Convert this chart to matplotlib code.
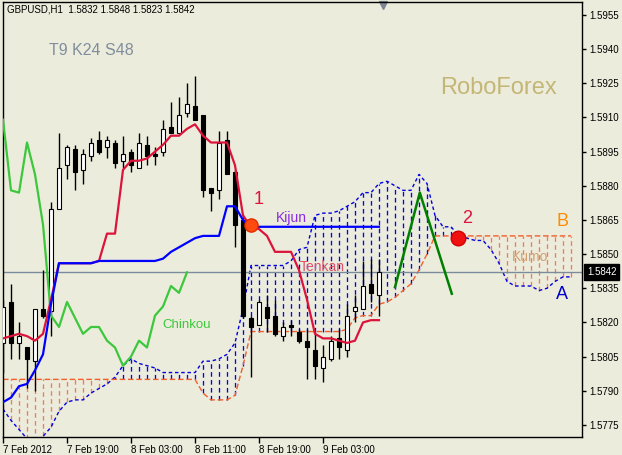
import numpy as np
import matplotlib.pyplot as plt
import matplotlib.transforms as mtransforms

plt.rcParams['font.family'] = ['Liberation Sans', 'DejaVu Sans']

# GBPUSD H1, bar 0 = 7 Feb 2012 11:00
opens = [1.5811, 1.5829, 1.5811, 1.5809, 1.5803, 1.5826, 1.5825, 1.5870, 1.5889, 1.5896,
         1.5887, 1.5893, 1.5900, 1.5897, 1.5899, 1.5891, 1.5895, 1.5888, 1.5898, 1.5894,
         1.5895, 1.5906, 1.5903, 1.5912, 1.5915, 1.5911, 1.5879, 1.5878, 1.5900, 1.5886,
         1.5865, 1.5822, 1.5819, 1.5827, 1.5823, 1.5814, 1.5819, 1.5816, 1.5812, 1.5808,
         1.5800, 1.5804, 1.5813, 1.5808, 1.5825, 1.5826, 1.5837, 1.5832]
highs = [1.5830, 1.5837, 1.5820, 1.5809, 1.5826, 1.5843, 1.5873, 1.5903, 1.5898, 1.5898,
         1.5896, 1.5901, 1.5904, 1.5902, 1.5900, 1.5902, 1.5896, 1.5903, 1.5902, 1.5897,
         1.5909, 1.5917, 1.5919, 1.5925, 1.5928, 1.5911, 1.5879, 1.5904, 1.5904, 1.5887,
         1.5867, 1.5823, 1.5830, 1.5832, 1.5830, 1.5820, 1.5821, 1.5817, 1.5817, 1.5816,
         1.5810, 1.5814, 1.5817, 1.5828, 1.5832, 1.5847, 1.5848, 1.5848]
lows = [1.5798, 1.5804, 1.5804, 1.5791, 1.5790, 1.5822, 1.5814, 1.5870, 1.5883, 1.5878,
        1.5881, 1.5891, 1.5894, 1.5892, 1.5888, 1.5888, 1.5886, 1.5888, 1.5889, 1.5889,
        1.5893, 1.5903, 1.5903, 1.5910, 1.5909, 1.5875, 1.5869, 1.5874, 1.5885, 1.5853,
        1.5822, 1.5796, 1.5819, 1.5816, 1.5814, 1.5812, 1.5814, 1.5811, 1.5795, 1.5795,
        1.5794, 1.5803, 1.5804, 1.5805, 1.5820, 1.5826, 1.5829, 1.5823]
closes = [1.5827, 1.5811, 1.5814, 1.5804, 1.5826, 1.5823, 1.5870, 1.5888, 1.5897, 1.5886,
          1.5894, 1.5899, 1.5895, 1.5900, 1.5890, 1.5894, 1.5889, 1.5899, 1.5893, 1.5893,
          1.5905, 1.5903, 1.5911, 1.5916, 1.5909, 1.5878, 1.5877, 1.5899, 1.5885, 1.5863,
          1.5823, 1.5818, 1.5829, 1.5822, 1.5815, 1.5818, 1.5818, 1.5812, 1.5809, 1.5801,
          1.5805, 1.5812, 1.5809, 1.5823, 1.5827, 1.5836, 1.5833, 1.5842]

tenkan = [1.5813, 1.5814, 1.5815, 1.5814, 1.5812, 1.5815, 1.5830, 1.5846, 1.5846, 1.5846,
          1.5846, 1.5846, 1.5847, 1.5859, 1.5859, 1.5887, 1.5891, 1.5891, 1.5892, 1.5895,
          1.5898, 1.5902, 1.5902, 1.5905, 1.5907, 1.5902, 1.5899, 1.5899, 1.5899, 1.5889,
          1.5867, 1.5862, 1.5861, 1.5858, 1.5851, 1.5851, 1.5851, 1.5843, 1.5830, 1.5815,
          1.5813, 1.5813, 1.5812, 1.5811, 1.5812, 1.5820, 1.5821, 1.5821]
kijun = [1.5785, 1.5787, 1.5792, 1.5793, 1.5799, 1.5806, 1.5828, 1.5846, 1.5846, 1.5846,
         1.5846, 1.5846, 1.5847, 1.5847, 1.5847, 1.5847, 1.5847, 1.5847, 1.5847, 1.5847,
         1.5848, 1.5851, 1.5853, 1.5855, 1.5857, 1.5858, 1.5858, 1.5858, 1.5871, 1.5871,
         1.5865, 1.5862, 1.5862, 1.5862, 1.5862, 1.5862, 1.5862, 1.5862, 1.5862, 1.5862,
         1.5862, 1.5862, 1.5862, 1.5862, 1.5862, 1.5862, 1.5862, 1.5862]
shift = 24

# senkou spans, already shifted 24 bars ahead
span_a = [1.5782, 1.5777, 1.5773, 1.5769, 1.5768, 1.5770, 1.5774, 1.5781, 1.5785, 1.5786,
          1.5786, 1.5789, 1.5791, 1.5793, 1.5796, 1.5801, 1.5804, 1.5802, 1.5801, 1.5800,
          1.5798, 1.5798, 1.5798, 1.5798, 1.5798, 1.5803, 1.5803, 1.5804, 1.5806, 1.5811,
          1.5826, 1.5845, 1.5845, 1.5845, 1.5845, 1.5845, 1.5847, 1.5852, 1.5853, 1.5867,
          1.5868, 1.5868, 1.5869, 1.5871, 1.5873, 1.5877, 1.5877, 1.5881, 1.5882, 1.5880,
          1.5878, 1.5878, 1.5885, 1.5881, 1.5867, 1.5862, 1.5862, 1.5858, 1.5857, 1.5856,
          1.5856, 1.5852, 1.5846, 1.5838, 1.5836, 1.5836, 1.5836, 1.5834, 1.5835, 1.5838,
          1.5840, 1.5840]
span_b = [1.5795, 1.5795, 1.5795, 1.5795, 1.5795, 1.5795, 1.5795, 1.5795, 1.5795, 1.5795,
          1.5795, 1.5795, 1.5795, 1.5795, 1.5795, 1.5795, 1.5795, 1.5795, 1.5795, 1.5795,
          1.5795, 1.5795, 1.5795, 1.5795, 1.5795, 1.5789, 1.5786, 1.5786, 1.5786, 1.5788,
          1.5801, 1.5816, 1.5816, 1.5816, 1.5816, 1.5816, 1.5816, 1.5816, 1.5816, 1.5816,
          1.5816, 1.5816, 1.5816, 1.5817, 1.5822, 1.5823, 1.5823, 1.5828, 1.5829, 1.5831,
          1.5834, 1.5837, 1.5843, 1.5850, 1.5858, 1.5858, 1.5858, 1.5858, 1.5858, 1.5858,
          1.5858, 1.5858, 1.5858, 1.5858, 1.5858, 1.5858, 1.5858, 1.5858, 1.5858, 1.5858,
          1.5858, 1.5858]

# hand drawn zigzag and marked points
zig_x = [49.0, 52.1, 56.1]
zig_y = [1.58355, 1.5877, 1.58326]
point1 = (31.06, 1.58629)
point2 = (56.9, 1.58572)

x_tick_pos = [0, 8, 16, 24, 32, 40]
x_labels = ["7 Feb 2012", "7 Feb 19:00", "8 Feb 03:00", "8 Feb 11:00", "8 Feb 19:00", "9 Feb 03:00"]
y_ticks = [1.5775, 1.5790, 1.5805, 1.5820, 1.5835, 1.5850, 1.5865, 1.5880, 1.5895,
           1.5910, 1.5925, 1.5940, 1.5955]
last_price = 1.5842

bg = "#ECECDC"
W, H = 622, 455
fig = plt.figure(figsize=(W / 100, H / 100), dpi=100, facecolor=bg)
ax = fig.add_axes([3 / W, 1 - 437 / H, 579 / W, 435 / H])
ax.set_facecolor(bg)
ax.set_xlim(0, 579 / 8)
ax.set_ylim(1.57697, 1.59607)

o, h, l, c = map(np.array, (opens, highs, lows, closes))
idx = np.arange(len(c))
a, b = np.array(span_a), np.array(span_b)
cidx = np.arange(len(a))

# kumo hatch: one dashed stroke per bar, blue where span A is on top
for i in cidx:
    col = "#0000FF" if a[i] >= b[i] else "#F57A55"
    ax.plot([i, i], [min(a[i], b[i]), max(a[i], b[i])], color=col, lw=0.95,
            ls=(0, (3.5, 2.5)), zorder=1)
ax.plot(cidx, a, color="#0000E0", lw=1.0, ls=(0, (2.5, 2)), zorder=2)
ax.plot(cidx, b, color="#F0602A", lw=1.0, ls=(0, (4, 2)), zorder=2)

ax.axhline(last_price, color="#7A8C9C", lw=1, zorder=2)

# candles
ax.vlines(idx, l, h, color="black", lw=1, zorder=3)
body_lo = np.minimum(o, c)
body_h = np.maximum(np.abs(c - o), 0.00004)
cols = np.where(c > o, "white", "black")
ax.bar(idx, body_h, bottom=body_lo, width=0.62, color=cols, edgecolor="black",
       linewidth=0.8, zorder=4)

# ichimoku lines
ax.plot(idx[:len(c) - shift], c[shift:], color="#3CC83C", lw=1.6, zorder=5)
ax.plot(idx, tenkan, color="#DC143C", lw=1.6, zorder=5)
ax.plot(idx, kijun, color="#0000FF", lw=1.6, zorder=6)

ax.plot(zig_x, zig_y, color="#008000", lw=1.8, zorder=7)
ax.plot(*point1, "o", ms=9.5, color="#FF4A10", mec="#E03000", zorder=7)
ax.plot(*point2, "o", ms=10.5, color="#F01010", mec="#D00000", zorder=7)

ax.text(11, 1.59392, "T9 K24 S48", color="#7F8E9E", fontsize=11.5, ha="center", va="center")
ax.text(61.9, 1.59228, "RoboForex", color="#C4B676", fontsize=17, ha="center", va="center")
ax.text(31.9, 1.58739, "1", color="#DC143C", fontsize=13, ha="center", va="center")
ax.text(58.0, 1.58657, "2", color="#DC143C", fontsize=13, ha="center", va="center")
ax.text(70.0, 1.58644, "B", color="#FF8C00", fontsize=13, ha="center", va="center")
ax.text(69.9, 1.58322, "A", color="#0000CD", fontsize=13, ha="center", va="center")
ax.text(65.9, 1.58486, "Kumo", color="#D4A070", fontsize=10, ha="center", va="center")
ax.text(36.0, 1.5866, "Kijun", color="#8A2BE2", fontsize=10, ha="center", va="center")
ax.text(39.9, 1.58443, "Tenkan", color="#E05064", fontsize=10, ha="center", va="center")
ax.text(23.0, 1.5819, "Chinkou", color="#3CC83C", fontsize=9.5, ha="center", va="center")

# axes styling
for s in ax.spines.values():
    s.set_color("black")
    s.set_linewidth(1)
ax.yaxis.tick_right()
ax.set_yticks(y_ticks)
ax.set_yticklabels([f"{v:.4f}" for v in y_ticks])
ax.tick_params(axis="y", direction="out", length=3, width=1, pad=2.5, labelsize=7)
ax.set_xticks(x_tick_pos)
ax.set_xticklabels(x_labels, ha="left")
ax.tick_params(axis="x", direction="out", length=4, width=1, pad=2, labelsize=7)

trans = mtransforms.blended_transform_factory(ax.transAxes, ax.transData)
ax.text(1.0 + 5 / 579, last_price, f"{last_price:.4f}", transform=trans, color="white",
        fontsize=7, ha="left", va="center", clip_on=False,
        bbox=dict(boxstyle="square,pad=0.3", fc="black", ec="black"))

ax.plot([(383 - 3) / 579], [0.993], marker="v", ms=6, color="#7A8694",
        transform=ax.transAxes, clip_on=False)

fig.text(7 / W, 1 - 10 / H, "GBPUSD,H1  1.5832 1.5848 1.5823 1.5842", fontsize=7,
         color="black", ha="left", va="center")

fig.savefig("out.png", dpi=100, facecolor=bg)
